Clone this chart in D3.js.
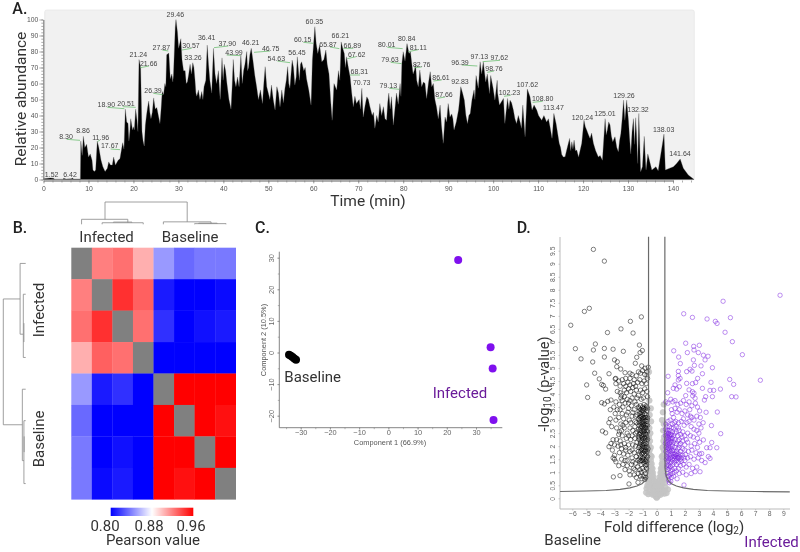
<!DOCTYPE html>
<html><head><meta charset="utf-8">
<script src="https://cdn.jsdelivr.net/npm/d3@7/dist/d3.min.js"></script>
<style>
html,body{margin:0;padding:0;background:#fff}
svg{display:block;filter:blur(.35px)}
.r{font-family:Roboto,sans-serif}
.s{font-family:"Liberation Sans",Arial,sans-serif}
</style></head><body><svg id="c" width="800" height="552"></svg>
<script>
// ---------- Panel A data ----------
const ticPeaks = [[0,.5],[1.5,1],[2.2,.8],[2.5,.2],[4.3,.2],[4.5,.8],[5,.3],[6.2,.4],[6.4,1],[6.7,.3],[8.2,.3],[8.3,24],[8.6,15],[8.86,27],[9.2,20],[9.6,22],[10,14],[10.4,16],[10.8,12],[11,6],[11.3,5],[11.6,6],[11.96,24],[12.3,20],[12.8,12],[13.2,8],[13.7,5],[14.2,7],[14.5,11],[14.9,9],[15.3,9],[15.6,14],[16,9],[16.6,12],[17,13],[17.6,23],[17.9,19],[18.2,44],[18.8,35],[19,24],[19.4,38],[19.8,31],[20,33],[20.5,44],[21,30],[21.24,75],[21.6,70],[21.9,30],[22.4,21],[22.9,40],[23.4,49],[23.9,38],[24.5,51],[25.2,45],[25.9,35],[26.4,55],[27,60],[27.4,78],[27.87,79],[28.2,63],[28.9,65],[29.3,95],[29.46,100],[29.8,92],[30.3,85],[30.8,75],[31.5,68],[32,61],[32.6,72],[33.2,73],[33.7,62],[34.1,52],[34.8,50],[35.7,58],[36.41,84],[37,62],[37.8,82],[38.5,60],[39.3,50],[39.7,76],[40.2,72],[40.8,60],[41.7,44],[42.2,75],[42.8,58],[43.5,58],[43.9,78],[44.2,60],[44.8,72],[45.2,80],[45.6,70],[46.21,82],[47,65],[47.8,50],[48.7,47.5],[49.3,70.5],[50,54],[50.7,59],[51.5,43.4],[51.9,58],[52.6,45.5],[53,56],[53.7,57],[54.3,70.5],[54.8,57],[55.3,74.6],[55.9,59],[56.45,76.7],[56.9,62],[57.4,73.6],[58.5,63],[59.5,46.5],[59.8,74.6],[60.35,95.5],[61,78.8],[61.9,73.6],[62.8,80.9],[63.5,66],[64.2,37],[64.6,60],[65.2,56],[66.2,86],[66.9,78.8],[67.4,76.7],[68.2,64],[68.9,45.5],[69.6,47.5],[70.8,57],[71.1,39],[71.9,51.7],[72.6,45.5],[73.7,32],[74.1,40],[74.8,47.5],[75.6,45.5],[76.3,37],[76.8,54],[77.4,51.7],[77.8,34],[78.5,54],[78.9,47],[79.7,72.6],[80,79.9],[80.84,85],[81.3,78.8],[81.9,72.6],[82.5,68.4],[83,62],[83.7,68.4],[84.5,61],[85.2,50.7],[86,67.4],[86.7,60],[87.4,45.5],[88.2,46.5],[88.9,22.6],[89.3,39],[90,47.5],[90.8,41],[91.3,31],[92.3,43.4],[92.8,58],[93.6,49.6],[94.3,35],[94.9,41.3],[95.75,56],[96.2,65],[96.7,57],[97.1,73.6],[97.45,66],[97.8,73.6],[98.35,61],[98.7,66],[99.2,53.8],[99.45,65],[100,57],[100.4,49.6],[100.9,62],[101.4,46.5],[102.3,50.7],[102.6,35],[103.2,50.7],[103.75,49.6],[104.5,43.4],[105.2,35],[106,36],[106.6,46.5],[107.1,26.7],[107.6,56.5],[108.2,51.7],[108.65,43.4],[109.1,46.5],[109.7,43.4],[110.1,40],[110.8,37],[111.9,36],[112.65,33],[113.1,25.7],[113.5,41.3],[114,35],[114.7,22.6],[115.25,15.7],[116,14.2],[116.35,18.4],[117,25.7],[117.5,23.6],[118,24.6],[118.6,18.4],[119,14],[119.7,22.6],[120.2,37],[120.8,31],[121.55,25.7],[122.3,22.6],[123.4,14],[124.3,12],[124.9,38],[125.4,31],[126,34],[126.6,23.6],[127.1,26.7],[127.85,17.4],[128.4,28.8],[129,49.6],[129.3,37],[129.7,49.6],[130.1,36.7],[130.6,16],[131.2,38],[131.7,38.6],[132.15,10],[132.4,41.3],[132.8,4.9],[133.6,27],[134,6],[134.4,16],[135.3,5.9],[136.2,8],[136.7,5.5],[138,28.4],[138.3,6],[140.1,8],[140.8,10],[141.6,12.8],[142.3,7],[143.4,2.8],[144.7,0]];
const ticFine = [[18.5,36],[19.2,30],[20.2,31],[20.8,37],[22.15,24],[22.65,34],[23.15,45],[23.65,42],[24.2,42],[24.85,44],[25.55,40],[26.15,44],[26.7,53],[27.2,58],[28.55,66],[28.75,61],[30.05,82],[30.55,88],[31.15,68],[31.75,60],[32.3,66],[32.9,66],[33.45,70],[33.9,54],[34.45,56],[35.2,55],[35.45,50],[36.1,62],[36.7,72],[37.4,54],[38.15,66],[38.9,68],[39.15,56],[39.95,62],[40.5,68],[41.25,50],[41.95,58],[42.5,62],[43.15,64],[44.5,68],[45.4,68],[45.9,78],[46.6,74],[47.4,58],[48.25,56],[49,60],[49.65,58],[50.35,50],[51.1,50],[52.25,54],[53.35,48],[54,62],[54.55,60],[55.05,66],[55.6,70],[56.2,64],[56.65,70],[57.15,72],[57.9,68],[58.2,70],[59,56],[59.65,60],[60.65,85],[61.4,84],[62.35,75],[63.1,72],[63.85,50],[65.6,68],[65.9,62],[66.55,82],[67.15,70],[67.8,70],[68.55,54],[69.25,52],[70.2,50],[70.5,44],[71.5,46],[72.25,50],[73.1,40],[73.4,42],[74.45,36],[75.2,40],[75.95,38],[76.55,48],[77.1,44],[78.15,44],[79.3,60],[79.5,52],[80.4,74],[81.6,80],[82.2,66],[82.75,72],[83.35,58],[84.1,58],[84.85,60],[85.6,60],[86.35,58],[87.05,50],[87.8,38],[88.5,34],[89.65,36],[90.4,39],[91.05,38],[91.8,36],[92.55,50],[93.2,54],[93.95,40],[94.6,40],[95.3,50],[95.95,50],[101,54],[103.5,44],[104.1,48],[104.85,38],[105.6,40],[106.3,32],[111.3,40],[112.3,38],[113.3,33],[115,20],[115.6,14],[117.25,18],[117.75,19],[118.3,18],[120.5,33],[121.2,28],[121.9,29],[122.8,18],[123.8,15],[125.15,28],[125.7,36],[126.3,27],[127.5,20],[128.1,24],[128.7,38],[130.35,26],[130.9,30],[131.45,22],[131.9,28],[133.2,8],[133.8,16]];
const xMajorA = d3.range(0,141,10), yMajorA = d3.range(0,101,10);
const peakLabels = ["1.52","6.42","8.30","8.86","11.96","17.67","18.90","20.51","21.24","21.66","26.39","27.87","29.46","30.57","33.26","36.41","37.90","43.99","46.21","46.75","54.63","56.45","60.35","60.15","65.87","66.21","66.89","67.62","68.31","70.73","80.01","80.84","81.11","79.63","82.76","79.13","86.61","87.66","92.83","96.39","97.13","97.62","98.76","102.23","107.62","108.80","113.47","120.24","125.01","129.26","132.32","138.03","141.64"];
// ---------- Panel B data ----------
const N=null;
const correlation = [
[N,.92,.925,.905,.848,.833,.838,.838],
[.92,N,.945,.93,.808,.80,.80,.803],
[.925,.945,N,.925,.815,.80,.805,.808],
[.905,.93,.925,N,.80,.80,.80,.80],
[.848,.808,.815,.80,N,.96,.96,.96],
[.833,.80,.80,.80,.96,N,.96,.955],
[.838,.80,.805,.80,.96,.96,N,.96],
[.838,.803,.808,.80,.96,.955,.96,N]];
const colourStops=[.80,.88,.96];
// U-links: left leaf pos, right leaf pos, height, left foot, right foot
const dendroTop=[[1.64,5.64,1,.224,.11],[.5,2.75,.224,0,.08],[1.5,3.5,.07,0,0],[2.05,2.95,.1,.08,.08],[4.48,6.8,.11,0,.03],[6,7.53,.03,0,0],[6.2,7.1,.05,.03,.03]];
const dendroLeft=[[1.63,5.63,1,.25,.15],[.5,2.75,.25,0,.106],[1.48,3.49,.106,0,0],[2.4,3,.08,.08,.08],[4.5,6.77,.15,0,.08],[5.5,7.5,.08,0,0],[6,6.5,.07,.07,.07]];
// ---------- Panel C data ----------
const pcaBaseline=[[-34,-.7],[-33.4,-1],[-32.8,-1.4],[-32.2,-1.9],[-31.6,-2.3]];
const pcaInfected=[[23.9,29.3],[35,1.7],[35.7,-5.1],[36,-21.4]];
// ---------- Panel D data ----------
const volcanoBaseline=[[-4.5,9.55],[-3.72,9.1],[-4.79,7.29],[-5.14,7.17],[-1.09,6.96],[-1.87,6.79],[-6.11,6.64],[-2.54,6.5],[-1.68,6.34],[-3.5,6.36],[-4.36,5.92],[-5.78,5.74],[-4.5,5.69],[-3.72,5.75],[-3.1,5.72],[-2.37,5.64],[-1.23,5.88],[-1.18,5.59],[-1.02,5.67],[-1.42,5.41],[-3.72,5.42],[-5.38,5.35],[-4.55,5.23],[-3,5.31],[-2.8,5.24],[-1.52,5.18],[-2.84,5.05],[-2.56,4.96],[-2.25,4.82],[-4.41,4.8],[-3.39,4.78],[-1.9,4.8],[-1.07,5.08],[-.6,5.03],[-.83,4.99],[-2.91,4.6],[-4.08,4.58],[-4.98,4.35],[-3.91,4.37],[-3.79,4.33],[-3.63,4.19],[-4.91,3.87],[-3.91,3.67],[-3.72,3.62],[-3.48,3.72],[-3.25,3.77],[-3.86,2.58],[-3.63,2.51],[-4.17,1.73],[-3.39,1.98],[-3.08,.82],[-2.61,.87],[-1.97,.55],[-1.33,.61],
[-2.95,4.58],[-2.9,4.4],[-2.7,4.5],[-2.6,4.3],[-2.45,4.55],[-2.35,4.4],[-2.2,4.6],[-2.05,4.45],[-1.9,4.6],[-1.75,4.75],[-1.6,4.55],[-1.45,4.7],[-1.3,4.85],[-1.15,4.8],[-1,4.9],[-.85,4.75],[-.7,4.85],[-1.5,4.3],[-1.35,4.45],[-1.2,4.55],[-1.05,4.4],[-.9,4.5],[-.75,4.4],[-.65,4.6],
[-2.8,4.1],[-2.6,4.05],[-2.55,3.85],[-2.5,3.95],[-2.45,3.75],[-2.3,4.15],[-2.15,4.05],[-2,4.2],[-1.85,4.1],[-1.7,4.25],[-1.6,4],[-1.45,4.15],[-1.3,3.95],[-1.15,4.15],[-1,4.05],[-.85,4.2],[-.7,4.1],[-.65,3.9],[-.95,3.85],[-1.1,3.8],[-1.75,3.85],[-1.9,3.75],[-2.1,3.8],
[-3.05,3.5],[-2.9,3.7],[-2.8,3.4],[-2.95,3.25],[-3.3,3.4],[-2.65,3.6],[-2.4,3.5],[-2.25,3.65],[-2,3.45],[-1.8,3.55],[-1.6,3.4],[-1.45,3.6],[-1.3,3.5],[-1.15,3.55],[-1,3.5],[-.9,3.6],[-.75,3.55],[-.65,3.45],
[-3.3,3.05],[-3.4,2.9],[-3.2,2.75],[-2.9,3],[-2.7,3.1],[-2.55,2.85],[-2.35,3.05],[-2.15,3.2],[-2.2,2.9],[-1.95,3],[-1.75,3.15],[-1.55,2.95],[-1.4,3.2],
[-1.25,3.35],[-1.2,3.25],[-1.15,3.15],[-1.1,3.3],[-1.05,3.05],[-1,3.2],[-.95,3.35],[-.9,3.1],[-.85,3.25],[-.8,3],[-.75,3.2],[-.7,3.35],[-.65,3.1],[-1.2,3],[-1.1,2.9],[-1,2.95],[-.9,2.85],[-.8,2.8],[-.7,2.95],[-1.25,2.8],[-1.15,2.7],[-1.05,2.75],[-.95,2.65],[-.85,2.6],[-.75,2.7],[-.65,2.8],
[-2.85,2.7],[-2.7,2.45],[-2.5,2.6],[-2.3,2.7],[-2.1,2.5],[-1.9,2.7],[-1.7,2.6],[-1.55,2.75],[-1.4,2.55],[-1.3,2.65],
[-1.25,2.45],[-1.15,2.5],[-1.05,2.35],[-.95,2.45],[-.85,2.35],[-.75,2.45],[-.65,2.55],[-1.25,2.25],[-1.15,2.15],[-1.05,2.2],[-.95,2.1],[-.85,2.2],[-.75,2.1],[-.65,2.25],[-1.2,2],[-1.1,1.9],[-1,2],[-.9,1.95],[-.8,1.85],[-.7,2],[-.62,1.9],
[-3.1,2.25],[-3.25,2.1],[-3,2.05],[-2.85,2.25],[-2.75,2],[-2.6,2.2],[-2.45,2.4],[-2.3,2.1],[-2.15,2.3],[-2,2.05],[-1.85,2.25],[-1.7,2.05],[-1.55,2.3],[-1.4,2.15],[-3.15,1.85],[-3.1,1.55],[-3,1.5],[-2.9,1.4],[-3,1.65],
[-2.65,1.75],[-2.5,1.9],[-2.35,1.7],[-2.2,1.85],[-2.25,1.45],[-2.05,1.65],[-1.9,1.8],[-1.75,1.55],[-1.6,1.75],[-1.45,1.6],[-1.3,1.8],
[-2.4,1.3],[-2.25,1.1],[-2.1,1.25],[-1.95,1.05],[-1.8,1.3],[-1.65,1.15],[-1.5,1.35],[-1.35,1.2],
[-1.25,1.7],[-1.15,1.6],[-1.05,1.7],[-.95,1.55],[-.85,1.65],[-.75,1.5],[-.65,1.6],[-1.2,1.4],[-1.1,1.3],[-1,1.45],[-.9,1.35],[-.8,1.25],[-.7,1.4],[-1.2,1.1],[-1.1,1],[-1,1.15],[-.9,1.05],[-.8,.95],[-.72,1.15],[-1.15,.85],[-1.05,.75],[-.95,.85],[-.85,.72],[-.78,.8],[-1.6,.9],[-1.45,.8],[-1.3,.95],
[-1.22,3.45],[-1.12,3.4],[-1.02,3.38],[-.92,3.45],[-.82,3.42],[-.72,3.5],[-1.18,3.1],[-1.08,3.15],[-.98,3.08],[-.88,3],[-.78,3.1],[-.68,3.02],[-1.28,3.05],[-1.22,2.9],[-1.12,2.82],[-1.02,2.85],[-.92,2.78],[-.82,2.72],[-.72,2.82],[-1.3,2.35],[-1.2,2.6],[-1.1,2.6],[-1,2.55],[-.9,2.55],[-.8,2.5],[-.7,2.6],[-1.22,2.35],[-1.1,2.4],[-1,2.28],[-.9,2.3],[-.8,2.28],[-.7,2.35],[-1.18,2.08],[-1.05,2.05],[-.95,1.85],[-.85,2.05],[-.75,1.95],[-.68,1.8],[-1.28,1.95],[-1.15,1.8],[-1.05,1.85],[-.95,1.75],[-.85,1.8],[-.75,1.72],[-1.25,1.5],[-1.12,1.45],[-1,1.55],[-.9,1.48],[-.8,1.42],[-.72,1.3],
[-1.9,4.35],[-1.65,4.4],[-2.2,4.3],[-1.4,3.85],[-1.55,3.7],[-2.3,3.9],[-2,3.65],[-1.7,3.3],[-1.5,3.15],[-2.05,3.3],[-2.45,3.25],[-2.6,3.4],[-1.85,2.9],[-1.45,2.9],[-2.4,2.8],[-2.65,2.55],[-2,2.4],[-1.75,2.4],[-1.5,2.5],[-2.55,2.05],[-2.2,1.95],[-1.75,1.85],[-1.5,2],[-2.5,1.5],[-2.1,1.45],[-1.7,1.4],[-2.7,1.25],[-1.55,1.1],[-1.9,.9],[-1.35,1.45]];
const volcanoInfected=[[8.77,7.79],[4.72,7.56],[1.92,7.08],[2.54,6.94],[3.58,6.88],[5.24,6.93],[4.17,6.79],[4.29,6.71],[4.86,6.37],[5.38,6.01],[6.09,5.51],[2.06,5.95],[3.03,5.87],[2.63,5.83],[2.65,5.69],[1.21,5.66],[2.18,5.59],[2.96,5.59],[3.32,5.49],[3.65,5.45],[1.56,5.42],[2.61,5.31],[3.44,5.31],[1.68,5.17],[2.68,5.1],[3.15,5.08],[3.96,5.01],[1.54,4.87],[2.13,4.86],[2.37,4.95],[2.51,4.88],[3.25,4.78],[.81,4.68],[1.54,4.71],[1.66,4.6],[1.54,4.54],[2.91,4.6],[5.19,4.56],[7.37,4.53],[3.86,4.45],[5.47,4.37],[2.13,4.41],[2.54,4.4],[2.77,4.44],[1.3,4.35],[1.61,4.28],[1.18,4.22],[1.42,4.19],[3.25,4.22],[4.53,4.19],[3.79,4.14],[4.05,4.14],[2.3,4.16],[2.54,4.09],[2.65,4.03],[.78,4.05],[5.33,3.9],[5.64,3.89],[3.96,3.9],[3.48,3.9],[3.39,3.77],[2.06,3.94],[2.56,3.93],[2.73,3.84],[4.31,3.31],[3.51,3.3],[3.89,2.79],[4.55,2.48],[3.91,2.14],[4.27,1.94],[3.55,1.94],[3.79,1.94],[3.32,2.24],[3.67,1.6],[3.79,1.53],[3.44,1.37],[3.08,1.02],[2.73,1.02],[1.94,.51],
[.65,3.7],[.8,3.65],[1,3.8],[1.15,3.7],[1.3,3.75],[1.5,3.6],[1.7,3.65],[1.9,3.75],[2.1,3.6],[2.3,3.7],[2.5,3.55],[2.75,3.65],[2.9,3.5],[3.05,3.35],[1.05,3.4],[1.1,3.25],[1.2,3.1],[1.3,3.45],[1.45,3.3],[1.6,3.4],[1.8,3.25],[2,3.35],[2.2,3.2],[2.35,3.4],[2.5,3.1],[2.65,3],[2.85,3.15],[3.1,3.1],[3.3,2.9],[3,2.85],
[.65,2.85],[.8,2.95],[.95,3],[1.1,2.85],[1.25,2.9],[1.05,2.7],[1.4,2.75],[1.55,2.9],[1.75,2.95],[1.95,2.8],[2.15,2.9],[2.3,2.95],[2.45,2.75],[2.65,2.65],[2.85,2.6],[3,2.5],[3.15,2.7],
[.62,2.65],[.7,2.55],[.78,2.6],[.86,2.5],[.95,2.6],[1.03,2.45],[1.12,2.55],[1.2,2.4],[1.3,2.5],[1.4,2.55],[1.5,2.4],[1.6,2.6],[1.7,2.45],[1.85,2.55],[2,2.4],[2.2,2.5],[2.4,2.4],[2.6,2.35],[2.9,2.3],[3.05,2.15],
[.62,2.4],[.7,2.3],[.78,2.35],[.86,2.25],[.95,2.3],[1.03,2.2],[1.12,2.3],[1.2,2.15],[1.3,2.25],[1.4,2.1],[1.5,2.2],[1.6,2.25],[1.7,2.1],[1.85,2.2],[2,2.05],[2.2,2.15],[2.45,2],[2.7,2.1],[2.9,1.95],
[.62,2.1],[.7,2],[.78,2.05],[.86,1.95],[.95,2],[1.03,1.9],[1.12,2],[1.2,1.85],[1.3,1.95],[1.4,1.8],[1.5,1.9],[1.6,1.95],[1.7,1.8],[1.85,1.9],[2,1.85],[2.25,1.8],[2.5,1.85],[2.8,1.75],[3.05,1.7],[3.2,1.72],
[.65,1.8],[.72,1.7],[.8,1.75],[.9,1.65],[1,1.7],[1.08,1.6],[1.15,1.7],[1.22,1.6],[1.3,1.7],[1.38,1.55],[1.45,1.65],[1.52,1.72],[1.6,1.6],[1.68,1.68],[1.75,1.55],[1.85,1.65],[1.95,1.55],[2.05,1.68],[2.2,1.55],[2.4,1.6],[2.65,1.5],[2.95,1.55],[3.2,1.45],
[.68,1.5],[.76,1.4],[.85,1.45],[.95,1.35],[1.05,1.4],[1.15,1.3],[1.25,1.38],[1.4,1.3],[1.55,1.38],[1.7,1.25],[1.9,1.3],[2.1,1.2],[2.3,1.3],[2.55,1.15],[2.85,1.2],
[.72,1.2],[.8,1.1],[.9,1.15],[1,1.05],[1.1,1.1],[1.25,1],[1.4,1.05],[1.6,.95],[1.85,1],[2.1,.9],[2.45,.95],[.75,.95],[.85,.85],[.95,.9],[1.05,.8],[1.2,.85],[1.45,.75],[.85,.7],[1,.65],[.9,.6],
[.66,2.5],[.74,2.42],[.82,2.48],[.9,2.38],[1,2.42],[1.08,2.32],[.66,2.2],[.74,2.15],[.82,2.2],[.9,2.12],[1,2.15],[1.1,2.08],[.66,1.95],[.74,1.88],[.82,1.92],[.92,1.85],[1.02,1.8],[1.12,1.82],[.7,1.6],[.78,1.55],[.88,1.52],[.98,1.55],[1.1,1.5],[1.25,1.5],[1.35,1.68],[1.48,1.55],[1.3,1.6],[1.55,1.55],[1.65,1.48],[1.4,1.45],[.75,1.28],[.85,1.25],[.98,1.22],[.8,.85],[1.12,.95],[1.3,1.15],[1.55,1.15],[1.75,1.42],[2,1.45],[1.6,2.05],[1.8,2.35],[2.1,2.25],[1.55,2.7],[1.35,2.95],[1.9,3.05],[2.4,3.15],[.72,2.75],[.9,2.75],[1.2,2.7]];
const volcanoOther=[[0,.02],[-.05,.06],[.05,.06],[-.1,.1],[.1,.1],[0,.12],[-.15,.17],[.15,.17],[-.05,.18],[.05,.18],[-.2,.24],[.2,.24],[-.1,.26],[.1,.26],[0,.24],[-.25,.32],[.25,.32],[-.15,.34],[.15,.34],[-.05,.32],[.05,.32],[-.3,.4],[.3,.4],[-.2,.42],[.2,.42],[-.1,.42],[.1,.42],[0,.38],[-.35,.5],[.35,.5],[-.25,.52],[.25,.52],[-.18,.56],[.18,.56],[-.1,.54],[.1,.54],[-.4,.6],[.4,.6],[-.3,.62],[.3,.62],[-.45,.7],[.45,.7],[-.35,.74],[.35,.74],[-.22,.68],[.22,.68],[-.14,.66],[.14,.66],[-.5,.8],[.5,.8],[-.4,.84],[.4,.84],[-.3,.86],[.3,.86],[-.22,.82],[.22,.82],[-.55,.92],[.55,.92],[-.45,.96],[.45,.96],[-.35,1],[.35,1],[-.27,.98],[.27,.98],[-.55,1.05],[.55,1.05],[-.48,1.12],[.48,1.12],[-.38,1.16],[.38,1.16],[-.3,1.14],[.3,1.14],[-.55,1.22],[.55,1.22],[-.45,1.3],[.45,1.3],[-.36,1.32],[.36,1.32],[-.55,1.4],[.55,1.4],[-.42,1.46],[.42,1.46],[-.52,1.55],[.52,1.55],[-.44,1.65],[.44,1.65],[-.36,1.6],[.36,1.6],[-.55,1.72],[.55,1.72],[-.5,1.85],[.5,1.85],[-.42,1.95],[.42,1.95],[-.55,2.05],[.55,2.05],[-.48,2.2],[.48,2.2],[-.55,2.35],[.52,2.35],[-.45,2.5],[.46,2.6],[-.52,2.7],[.5,2.85],[-.4,2.95],[.38,3],[-.5,3.2],[.44,3.3],[-.42,3.45],[.5,3.6],[-.52,3.75],[.55,.18],[-.6,.16],[.7,.2],[-.75,.22],[.8,.34],[-.72,.38],[-.7,4.7],[-.55,4.85],[.62,.42],[-.66,.5],[-.5,.3],[.48,.28],[-.4,.2],[.38,.2],[-.28,.14],[.28,.14],[-.12,.38],[.12,.38],[-.08,.48],[.08,.48],[-.58,.6],[.58,.6],[-.62,.75],[.62,.75],[-.58,.42],[.58,.3]];
const curveRight=[[.58,10.04],[.58,6],[.58,3],[.58,1.6],[.6,1.1],[.68,.85],[.82,.68],[1.05,.56],[1.4,.47],[1.9,.4],[2.6,.34],[3.6,.3],[5,.28],[7,.26],[9.46,.25]];
const curveLeft=[[-.58,10.04],[-.58,6],[-.58,3],[-.58,1.6],[-.6,1.1],[-.68,.85],[-.82,.68],[-1.05,.56],[-1.4,.47],[-1.9,.4],[-2.6,.34],[-3.6,.3],[-5,.28],[-6.87,.26]];
const xTicksD=d3.range(-6,10), yTicksD=d3.range(0,9.6,.5);

// ---------- Layout (annotations, not data) ----------
const labelXY=[[155,522],[210,523],[198,410],[249,392],[302,412],[329,436],[319,313],[378,310],[415,163],[446,191],[459,271],[484,142],[526,43],[573,137],[579,173],[620,113],[682,131],[702,156],[752,128],[812,146],[829,174],[891,156],[943,65],[908,118],[984,133],[1021,107],[1057,135],[1070,163],[1078,215],[1085,248],[1160,133],[1220,115],[1255,142],[1170,177],[1265,192],[1165,256],[1323,232],[1332,284],[1380,243],[1380,186],[1438,170],[1498,172],[1482,204],[1528,276],[1582,252],[1628,295],[1660,323],[1747,352],[1815,340],[1872,285],[1914,327],[1991,387],[2040,461]];
const leaders=[[200,418,240,421],[292,425,300,420],[332,447,360,449],[322,322,373,326],[368,320,407,322],[421,203,447,198],[460,280,488,284],[487,150,505,153],[546,150,575,145],[642,143,685,138],[680,165,722,167],[762,157,810,153],[832,183,870,188],[910,127,940,130],[990,141,1018,146],[1030,145,1060,145],[1042,176,1068,170],[1050,225,1080,225],[1162,142,1208,146],[1172,187,1205,191],[1225,155,1255,149],[1243,203,1265,201],[1168,265,1198,268],[1300,243,1325,240],[1312,295,1335,291],[1385,195,1432,198],[1448,185,1500,181],[1462,217,1482,213],[1512,289,1532,286],[1598,307,1628,304]];

const svg=d3.select("#c");
function txt(g,x,y,s,size,fill,cls,anchor,rot){
  const t=g.append("text").attr("class",cls||"r").attr("font-size",size).attr("fill",fill||"#333").attr("text-anchor",anchor||"start").text(s);
  t.attr("transform",rot?`translate(${x},${y}) rotate(${rot})`:`translate(${x},${y})`);
  return t;
}
[["A.",12.3,14],["B.",12.7,233],["C.",255,233],["D.",516.7,233]].forEach(d=>txt(svg,d[1],d[2],d[0],16,"#222","r").attr("font-weight",500));

// ===== A =====
const xA=d3.scaleLinear().domain([0,140]).range([43.5,673]);
const yA=d3.scaleLinear().domain([0,100]).range([179.5,19.5]);
const A=svg.append("g");
A.append("rect").attr("x",44.7).attr("y",10).attr("width",649.6).attr("height",170).attr("rx",2).attr("fill","#f1f1f1").attr("stroke","#e2e2e2").attr("stroke-width",.6);
const tic=ticPeaks.concat(ticFine).sort((a,b)=>a[0]-b[0]);
A.append("path").datum(tic).attr("fill","#000").attr("stroke","#555").attr("stroke-width",.3)
 .attr("d",d3.area().x(d=>xA(d[0])).y0(yA(0)).y1(d=>yA(d[1])));
function styleAxis(g){g.select(".domain").attr("stroke","#777").attr("stroke-width",.7);g.selectAll("line").attr("stroke","#777").attr("stroke-width",.6);g.selectAll("text").attr("class","s").attr("fill","#555").attr("font-size",6.8);}
A.append("g").attr("transform","translate(0,180.5)").call(d3.axisBottom(xA).tickValues(d3.range(0,145,2)).tickFormat("").tickSize(2).tickSizeOuter(0)).call(styleAxis);
A.append("g").attr("transform","translate(0,180.5)").call(d3.axisBottom(xA).tickValues(xMajorA).tickSize(3).tickPadding(3).tickSizeOuter(0)).call(styleAxis);
A.append("g").attr("transform","translate(43.3,0)").call(d3.axisLeft(yA).tickValues(d3.range(0,101,2)).tickFormat("").tickSize(2).tickSizeOuter(0)).call(styleAxis);
A.append("g").attr("transform","translate(43.3,0)").call(d3.axisLeft(yA).tickValues(yMajorA).tickSize(4).tickPadding(1).tickSizeOuter(0)).call(styleAxis);
leaders.forEach(l=>A.append("line").attr("x1",l[0]/3).attr("y1",l[1]/3).attr("x2",l[2]/3).attr("y2",l[3]/3).attr("stroke","#6fbf73").attr("stroke-width",.8));
peakLabels.forEach((s,i)=>txt(A,labelXY[i][0]/3,labelXY[i][1]/3+2.5,s,7,"#444","s","middle"));
txt(A,26,99,"Relative abundance",15.5,"#333","r","middle",-90);
txt(A,368,206,"Time (min)",15.5,"#333","r","middle");

// ===== B =====
const B=svg.append("g");
const idx=d3.range(8);
const xB=d3.scaleBand().domain(idx).range([71.3,235.7]);
const yB=d3.scaleBand().domain(idx).range([247.7,499.3]);
const col=d3.scaleLinear().domain(colourStops).range(["#0000ff","#ffffff","#ff0000"]).clamp(true);
correlation.forEach((row,r)=>row.forEach((v,c)=>{
  B.append("rect").attr("x",xB(c)).attr("y",yB(r)).attr("width",xB.bandwidth()+.3).attr("height",yB.bandwidth()+.3).attr("fill",v===null?"#808080":col(v));
}));
const dX=d3.scaleLinear().domain([0,8]).range([71.3,235.7]);
const dH=d3.scaleLinear().domain([0,1]).range([224.3,202]);
const dY=d3.scaleLinear().domain([0,8]).range([247.7,499.3]);
const dW=d3.scaleLinear().domain([0,1]).range([25.7,3.3]);
dendroTop.forEach(d=>B.append("path").attr("fill","none").attr("stroke","#888").attr("stroke-width",.8)
 .attr("d",`M${dX(d[0])},${dH(d[3])}V${dH(d[2])}H${dX(d[1])}V${dH(d[4])}`));
dendroLeft.forEach(d=>B.append("path").attr("fill","none").attr("stroke","#888").attr("stroke-width",.8)
 .attr("d",`M${dW(d[3])},${dY(d[0])}H${dW(d[2])}V${dY(d[1])}H${dW(d[4])}`));
txt(B,79.3,241.7,"Infected",15,"#333");
txt(B,161.7,241.7,"Baseline",15,"#333");
txt(B,44,310,"Infected",15,"#333","r","middle",-90);
txt(B,44,439,"Baseline",15,"#333","r","middle",-90);
const defs=svg.append("defs");
const gr=defs.append("linearGradient").attr("id","cb");
[["0%","#0000ff"],["50%","#ffffff"],["100%","#ff0000"]].forEach(s=>gr.append("stop").attr("offset",s[0]).attr("stop-color",s[1]));
B.append("rect").attr("x",110.7).attr("y",507.7).attr("width",82.6).attr("height",8.3).attr("fill","url(#cb)");
const cbX=d3.scaleLinear().domain(colourStops).range([105,149,191]);
colourStops.forEach(v=>txt(B,cbX(v),530.5,v.toFixed(2),15,"#333","r","middle"));
txt(B,153,545,"Pearson value",15,"#333","r","middle");

// ===== C =====
const C=svg.append("g");
const xC=d3.scaleLinear().domain([-30,30]).range([300.7,476]);
const yC=d3.scaleLinear().domain([-20,30]).range([415.7,257.7]);
function styleC(g){g.select(".domain").remove();g.selectAll("line").attr("stroke","#888").attr("stroke-width",.6);g.selectAll("text").attr("class","s").attr("fill","#666").attr("font-size",7.4);}
C.append("g").attr("transform","translate(0,427.7)").call(d3.axisBottom(xC).tickValues(d3.range(-35,36,5)).tickFormat("").tickSize(1.5).tickSizeOuter(0)).call(styleC);
C.append("g").attr("transform","translate(0,427.7)").call(d3.axisBottom(xC).tickValues(d3.range(-30,31,10)).tickSize(2).tickPadding(0).tickSizeOuter(0)).call(styleC);
C.append("g").attr("transform","translate(279.3,0)").call(d3.axisLeft(yC).tickValues(d3.range(-20,31,5)).tickFormat("").tickSize(1.5).tickSizeOuter(0)).call(styleC);
const yAxC=C.append("g").attr("transform","translate(279.3,0)").call(d3.axisLeft(yC).tickValues(d3.range(-20,31,10)).tickSize(2).tickPadding(0).tickSizeOuter(0)).call(styleC);
yAxC.selectAll("text").attr("transform","rotate(-90)").attr("text-anchor","middle").attr("x",0).attr("y",-5).attr("dy",0);
C.append("line").attr("x1",279.3).attr("x2",502.3).attr("y1",427.7).attr("y2",427.7).attr("stroke","#666").attr("stroke-width",.8);
C.append("line").attr("x1",279.3).attr("x2",279.3).attr("y1",251.7).attr("y2",427.7).attr("stroke","#666").attr("stroke-width",.8);
C.selectAll("circle.b").data(pcaBaseline).enter().append("circle").attr("cx",d=>xC(d[0])).attr("cy",d=>yC(d[1])).attr("r",4).attr("fill","#000");
C.selectAll("circle.i").data(pcaInfected).enter().append("circle").attr("cx",d=>xC(d[0])).attr("cy",d=>yC(d[1])).attr("r",4).attr("fill","#7f10ee");
txt(C,390,444.5,"Component 1 (66.9%)",7.4,"#555","s","middle");
txt(C,266,340,"Component 2 (10.5%)",7.4,"#555","s","middle",-90);
txt(C,284.3,381.7,"Baseline",15,"#333");
txt(C,432.7,397.7,"Infected",15,"#6a1b9a");

// ===== D =====
const D=svg.append("g");
const xD=d3.scaleLinear().domain([-6,9]).range([572.3,783.3]);
const yD=d3.scaleLinear().domain([0,9.5]).range([498.3,250.7]);
function styleD(g){g.select(".domain").remove();g.selectAll("line").attr("stroke","#aaa").attr("stroke-width",.6);g.selectAll("text").attr("class","s").attr("fill","#666").attr("font-size",6.8);}
D.append("line").attr("x1",560).attr("x2",560).attr("y1",237).attr("y2",509).attr("stroke","#bbb").attr("stroke-width",1);
D.append("line").attr("x1",560).attr("x2",790).attr("y1",509).attr("y2",509).attr("stroke","#bbb").attr("stroke-width",1);
D.append("g").attr("transform","translate(0,509)").call(d3.axisBottom(xD).tickValues(xTicksD).tickFormat(d3.format("d")).tickSize(1.5).tickPadding(1).tickSizeOuter(0)).call(styleD);
const yAxD=D.append("g").attr("transform","translate(560,0)").call(d3.axisLeft(yD).tickValues(yTicksD).tickFormat(d=>d).tickSize(1.5).tickSizeOuter(0)).call(styleD);
yAxD.selectAll("text").attr("transform","rotate(-90)").attr("text-anchor","middle").attr("x",0).attr("y",-5).attr("dy",0);
D.selectAll("circle.o").data(volcanoOther).enter().append("circle").attr("cx",d=>xD(d[0])).attr("cy",d=>yD(d[1])).attr("r",2.8).attr("fill","#c4c4c4").attr("fill-opacity",.85).attr("stroke","#c4c4c4").attr("stroke-width",.6);
D.selectAll("circle.b").data(volcanoBaseline).enter().append("circle").attr("cx",d=>xD(d[0])).attr("cy",d=>yD(d[1])).attr("r",2.2).attr("fill","none").attr("stroke","#000").attr("stroke-opacity",.55).attr("stroke-width",.9);
D.selectAll("circle.p").data(volcanoInfected).enter().append("circle").attr("cx",d=>xD(d[0])).attr("cy",d=>yD(d[1])).attr("r",2.2).attr("fill","none").attr("stroke","#7a1fe0").attr("stroke-opacity",.55).attr("stroke-width",.9);
const cl=d3.line().x(d=>xD(d[0])).y(d=>yD(d[1]));
[curveLeft,curveRight].forEach(c=>D.append("path").attr("d",cl(c)).attr("fill","none").attr("stroke","#6a6a6a").attr("stroke-width",1.2));
const xt=txt(D,604,531.5,"",15,"#333");
xt.append("tspan").text("Fold difference (log");
xt.append("tspan").text("2").attr("font-size",10).attr("dy",2);
xt.append("tspan").text(")").attr("dy",-2);
const yt=txt(D,549,384,"",14.5,"#333","r","middle",-90);
yt.append("tspan").text("-log");
yt.append("tspan").text("10").attr("font-size",10).attr("dy",2);
yt.append("tspan").text(" (p-value)").attr("dy",-2);
txt(D,544.3,545,"Baseline",15,"#333");
txt(D,744.3,547.3,"Infected",15,"#6a1b9a");
</script></body></html>
